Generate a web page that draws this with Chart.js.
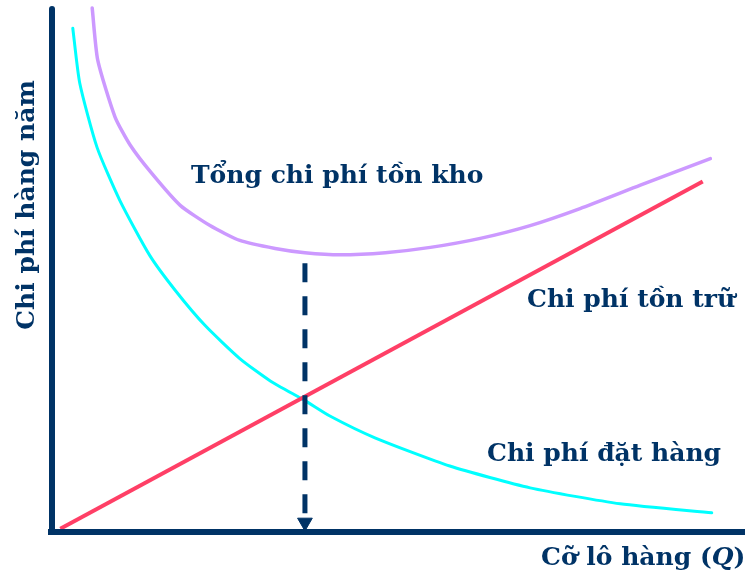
<!DOCTYPE html>
<html>
<head>
<meta charset="utf-8">
<script src="https://cdn.jsdelivr.net/npm/chart.js@4"></script>
<style>
  html, body { margin: 0; padding: 0; background: #ffffff; }
  #wrap { width: 745px; height: 579px; }
</style>
</head>
<body>
<div id="wrap"><canvas id="eoqChart" width="745" height="579"></canvas></div>
<script>
// Cỡ lô hàng (Q) và chi phí (thang 0-100)
const chiPhiDatHangQ = [3.0, 4.0, 6.5, 9.8, 14.1, 17.8, 22.1, 27.1, 31.5, 36.5, 40.1, 46.6, 57.4, 69.0, 82.0, 95.2];
const chiPhiDatHang  = [94.7, 84.4, 72.3, 62.3, 52.0, 45.4, 38.8, 32.6, 28.4, 24.7, 21.8, 17.7, 12.4, 8.3, 5.3, 3.6];

const tongChiPhiQ = [5.8, 6.6, 9.1, 11.3, 14.4, 18.5, 22.8, 27.1, 32.2, 36.5, 41.6, 48.1, 54.6, 61.8, 69.0, 76.2, 84.9, 95.0];
const tongChiPhi  = [98.5, 88.7, 78.0, 72.7, 67.4, 61.4, 57.6, 54.8, 53.3, 52.5, 52.1, 52.5, 53.5, 55.2, 57.6, 60.8, 65.2, 70.2];

const chiPhiTonTruQ = [1.2, 93.9];
const chiPhiTonTru  = [0.6, 65.9];

// Đường đứt nét tại Q tối ưu
const qToiUu = [36.5, 36.5];
const qToiUuY = [50.5, 1.8];

const navy = '#003366';

function toPoints(xs, ys) {
    return xs.map((x, i) => ({ x: x, y: ys[i] }));
}

// Plugin vẽ trục và chữ
const axesAndLabels = {
    id: 'axesAndLabels',
    afterDatasetsDraw(chart) {
        const ctx = chart.ctx;
        const x = chart.scales.x;
        const y = chart.scales.y;
        const x0 = x.getPixelForValue(0);
        const y0 = y.getPixelForValue(0);

        ctx.save();
        ctx.strokeStyle = navy;
        ctx.lineWidth = 6;
        // trục tung
        ctx.lineCap = 'round';
        ctx.beginPath();
        ctx.moveTo(x0, 9);
        ctx.lineTo(x0, y0);
        ctx.stroke();
        // trục hoành
        ctx.lineCap = 'butt';
        ctx.beginPath();
        ctx.moveTo(x0 - 4, y0);
        ctx.lineTo(chart.width, y0);
        ctx.stroke();

        ctx.fillStyle = navy;
        ctx.font = 'bold 25px "DejaVu Serif"';
        ctx.textBaseline = 'alphabetic';
        ctx.textAlign = 'left';
        ctx.fillText('Tổng chi phí tồn kho', 191, 183);
        ctx.fillText('Chi phí tồn trữ', 527, 307);
        ctx.fillText('Chi phí đặt hàng', 487, 461);

        // tiêu đề trục hoành
        let tx = 541;
        const part1 = 'Cỡ lô hàng (';
        ctx.fillText(part1, tx, 565);
        tx += ctx.measureText(part1).width;
        ctx.font = 'italic bold 25px "DejaVu Serif"';
        ctx.fillText('Q', tx, 565);
        tx += ctx.measureText('Q').width;
        ctx.font = 'bold 25px "DejaVu Serif"';
        ctx.fillText(')', tx, 565);

        // tiêu đề trục tung
        ctx.translate(27, 205);
        ctx.rotate(-Math.PI / 2);
        ctx.textAlign = 'center';
        ctx.textBaseline = 'middle';
        ctx.fillText('Chi phí hàng năm', 0, 0);
        ctx.restore();
    }
};

new Chart(document.getElementById('eoqChart').getContext('2d'), {
    type: 'scatter',
    data: {
        datasets: [
            {
                label: 'Q*',
                data: toPoints(qToiUu, qToiUuY),
                showLine: true,
                borderColor: navy,
                borderWidth: 5,
                borderDash: [19, 14],
                pointRadius: [0, 8.5],
                pointStyle: 'triangle',
                rotation: 180,
                pointBackgroundColor: navy,
                pointBorderColor: navy,
                pointBorderWidth: 1
            },
            {
                label: 'Chi phí tồn trữ',
                data: toPoints(chiPhiTonTruQ, chiPhiTonTru),
                showLine: true,
                borderColor: '#FF3F66',
                borderWidth: 4,
                pointRadius: 0
            },
            {
                label: 'Chi phí đặt hàng',
                data: toPoints(chiPhiDatHangQ, chiPhiDatHang),
                showLine: true,
                borderColor: '#00FFFF',
                borderWidth: 3,
                borderCapStyle: 'round',
                tension: 0.2,
                pointRadius: 0
            },
            {
                label: 'Tổng chi phí tồn kho',
                data: toPoints(tongChiPhiQ, tongChiPhi),
                showLine: true,
                borderColor: '#CC99FF',
                borderWidth: 3.5,
                borderCapStyle: 'round',
                tension: 0.2,
                pointRadius: 0
            }
        ]
    },
    options: {
        responsive: false,
        animation: false,
        devicePixelRatio: 1,
        clip: false,
        layout: { autoPadding: false, padding: { left: 52, right: 0, top: 0, bottom: 47 } },
        plugins: {
            legend: { display: false },
            tooltip: { enabled: false }
        },
        scales: {
            x: { type: 'linear', min: 0, max: 100, display: false },
            y: { type: 'linear', min: 0, max: 100, display: false }
        }
    },
    plugins: [axesAndLabels]
});
</script>
</body>
</html>
